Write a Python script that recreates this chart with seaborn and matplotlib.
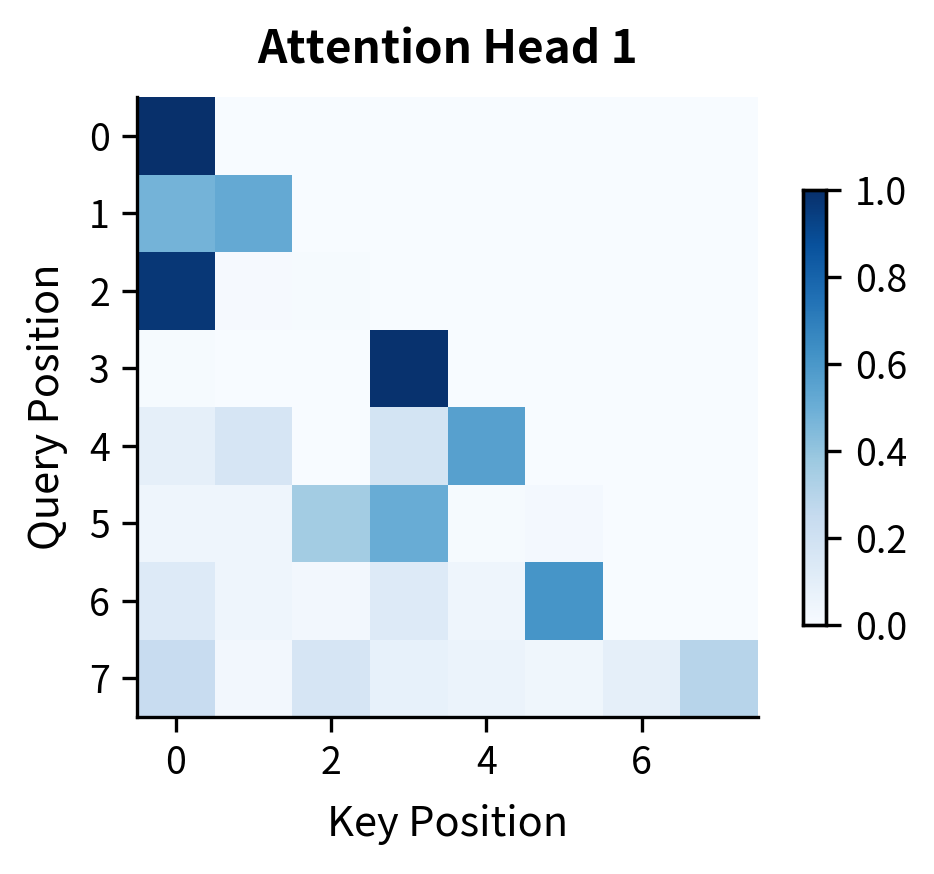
import numpy as np
import pandas as pd
import matplotlib
matplotlib.use("Agg")
import matplotlib.pyplot as plt
import seaborn as sns

key_positions = list(range(8))
query_positions = list(range(8))
row0 = [1.00, 0, 0, 0, 0, 0, 0, 0]
row1 = [0.48, 0.52, 0, 0, 0, 0, 0, 0]
row2 = [0.97, 0.015, 0.01, 0, 0, 0, 0, 0]
row3 = [0.01, 0.00, 0.00, 0.99, 0, 0, 0, 0]
row4 = [0.09, 0.17, 0.00, 0.18, 0.56, 0, 0, 0]
row5 = [0.05, 0.05, 0.36, 0.51, 0.01, 0.02, 0, 0]
row6 = [0.13, 0.05, 0.03, 0.13, 0.05, 0.61, 0, 0]
row7 = [0.24, 0.03, 0.17, 0.08, 0.06, 0.04, 0.09, 0.30]

sns.set_style("ticks")
plt.rcParams['font.family'] = ['Noto Sans CJK SC', 'DejaVu Sans']
plt.rcParams.update({"text.color": "black", "axes.labelcolor": "black",
                     "xtick.color": "black", "ytick.color": "black",
                     "axes.edgecolor": "black"})

attn = pd.DataFrame([row0, row1, row2, row3, row4, row5, row6, row7],
                    index=query_positions, columns=key_positions)

fig = plt.figure(figsize=(9.34 / 3, 8.74 / 3), dpi=300)
ax = fig.add_axes([0.1467, 0.1796, 0.665, 0.7094])
cax = fig.add_axes([0.8597, 0.2849, 0.0246, 0.4977])

sns.heatmap(attn, cmap="Blues", vmin=0, vmax=1, ax=ax, cbar_ax=cax,
            square=False, xticklabels=False, yticklabels=False)

ax.set_xticks([k + 0.5 for k in key_positions[::2]])
ax.set_xticklabels([str(k) for k in key_positions[::2]], fontsize=9, rotation=0)
ax.set_yticks([q + 0.5 for q in query_positions])
ax.set_yticklabels([str(q) for q in query_positions], fontsize=9, rotation=0)
for s in ["left", "bottom"]:
    ax.spines[s].set_visible(True)
    ax.spines[s].set_linewidth(0.8)
    ax.spines[s].set_color("black")
ax.spines["top"].set_visible(False)
ax.spines["right"].set_visible(False)
ax.tick_params(axis="both", length=3.5, width=0.8, color="black", labelcolor="black", pad=3)

ax.set_xlabel("Key Position", fontsize=10, color="black", labelpad=5)
ax.set_ylabel("Query Position", fontsize=10, color="black", labelpad=5)
ax.set_title("Attention Head 1", fontsize=11, fontweight="bold", pad=8, color="black")

cax.tick_params(labelsize=9, length=3.5, width=0.8, color="black", labelcolor="black")
cax.set_yticks([0, 0.2, 0.4, 0.6, 0.8, 1.0])
cax.set_yticklabels(["0.0", "0.2", "0.4", "0.6", "0.8", "1.0"])
for s in cax.spines.values():
    s.set_visible(True)
    s.set_linewidth(0.8)
    s.set_color("black")

fig.savefig("out.png", dpi=300)
